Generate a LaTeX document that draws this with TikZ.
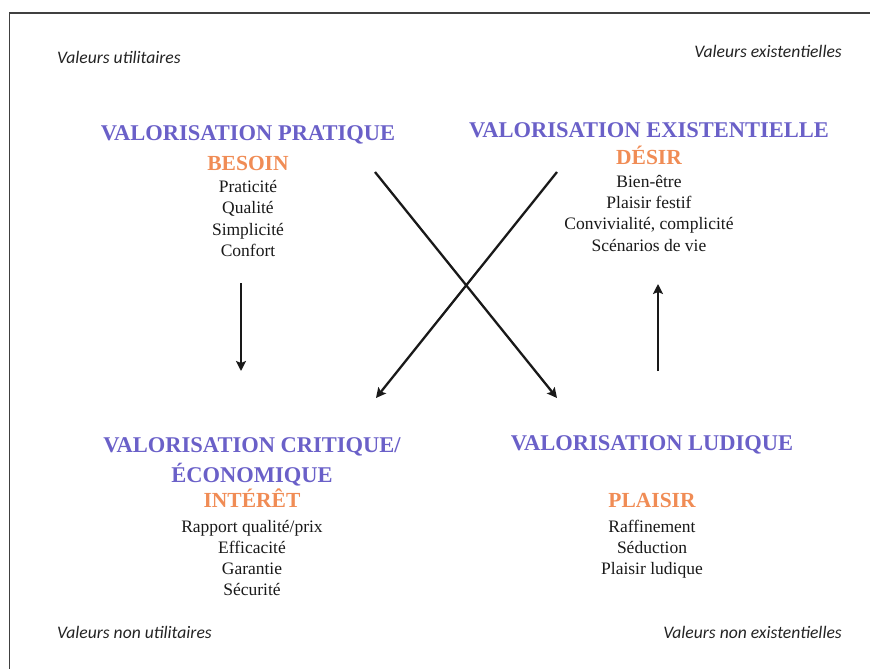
\documentclass[tikz,border=0pt]{standalone}
\usepackage{fontspec}
\setmainfont{Liberation Serif}
\newfontfamily\calibrifont{Carlito}
\usetikzlibrary{
	arrows.meta,
	positioning
}
\definecolor{titleblue}{RGB}{106,96,200}
\definecolor{keyorange}{RGB}{240,140,85}
\definecolor{itemgray}{RGB}{25,25,25}
\definecolor{cornergray}{RGB}{35,35,35}
\definecolor{arrowgray}{RGB}{25,25,25}
\tikzset{
	>={Stealth[length=10pt, width=10pt, inset=2pt]},
	valuearrow/.style={->, line width=2.3pt, draw=arrowgray},
	frameline/.style={line width=1.3pt, draw=black!75},
	titlenode/.style={font=\fontsize{22.5}{27}\selectfont\bfseries, text=titleblue, inner sep=0pt, text height=15pt, text depth=0pt},
	keynode/.style={font=\fontsize{21.5}{26}\selectfont\bfseries, text=keyorange, inner sep=0pt, text height=14.5pt, text depth=0pt},
	itemnode/.style={font=\fontsize{17.5}{21.3}\selectfont, text=itemgray, align=center, inner sep=0pt},
	cornernode/.style={font=\calibrifont\itshape\fontsize{17.6}{20}\selectfont, text=cornergray, inner sep=0pt}
}

\begin{document}
\begin{tikzpicture}[x=1pt, y=1pt]
	\useasboundingbox (0,0) rectangle (870,-669);
	\draw[frameline] (9.5,-669) -- (9.5,-13) -- (870,-13);

	% corner labels
	\node[cornernode, anchor=west] (utilitaires) at (57,-57) {Valeurs utilitaires};
	\node[cornernode, anchor=east] (existentielles) at (842,-51) {Valeurs existentielles};
	\node[cornernode, anchor=west] (nonutilitaires) at (57,-632) {Valeurs non utilitaires};
	\node[cornernode, anchor=east] (nonexistentielles) at (842,-632) {Valeurs non existentielles};

	% top left
	\node[titlenode, anchor=north] (pratique) at (248,-125.5) {VALORISATION PRATIQUE};
	\node[keynode, below = 14.5pt of pratique.south] (besoin) {BESOIN};
	\node[itemnode, below = 10pt of besoin.south] (besoinitems) {Praticité\\Qualité\\Simplicité\\Confort};

	% top right
	\node[titlenode, anchor=north] (existentielle) at (649,-122.5) {VALORISATION EXISTENTIELLE};
	\node[keynode, below = 12pt of existentielle.south] (desir) {DÉSIR};
	\node[itemnode, below = 10pt of desir.south] (desiritems) {Bien-être\\Plaisir festif\\Convivialité, complicité\\Scénarios de vie};

	% bottom left
	\node[titlenode, anchor=north] (critique) at (252,-437.5) {VALORISATION CRITIQUE/};
	\node[titlenode, below = 14.5pt of critique.south] (economique) {ÉCONOMIQUE};
	\node[keynode, below = 10pt of economique.south] (interet) {INTÉRÊT};
	\node[itemnode, below = 12pt of interet.south] (interetitems) {Rapport qualité/prix\\Efficacité\\Garantie\\Sécurité};

	% bottom right
	\node[titlenode, anchor=north] (ludique) at (652,-435.5) {VALORISATION LUDIQUE};
	\node[keynode, below = 42pt of ludique.south] (plaisir) {PLAISIR};
	\node[itemnode, below = 12pt of plaisir.south] (plaisiritems) {Raffinement\\Séduction\\Plaisir ludique};

	% arrow ends
	\coordinate (pratique-out) at (241,-283);
	\coordinate (critique-in) at (241,-371);
	\coordinate (ludique-out) at (658,-371);
	\coordinate (existentielle-in) at (658,-284);
	\coordinate (pratique-cross) at (375,-172);
	\coordinate (ludique-in) at (557,-398);
	\coordinate (existentielle-cross) at (557,-172);
	\coordinate (critique-cross) at (376,-398);

	\draw[valuearrow] (pratique-out) -- (critique-in);
	\draw[valuearrow] (ludique-out) -- (existentielle-in);
	\draw[valuearrow] (pratique-cross) -- (ludique-in);
	\draw[valuearrow] (existentielle-cross) -- (critique-cross);
\end{tikzpicture}
\end{document}
